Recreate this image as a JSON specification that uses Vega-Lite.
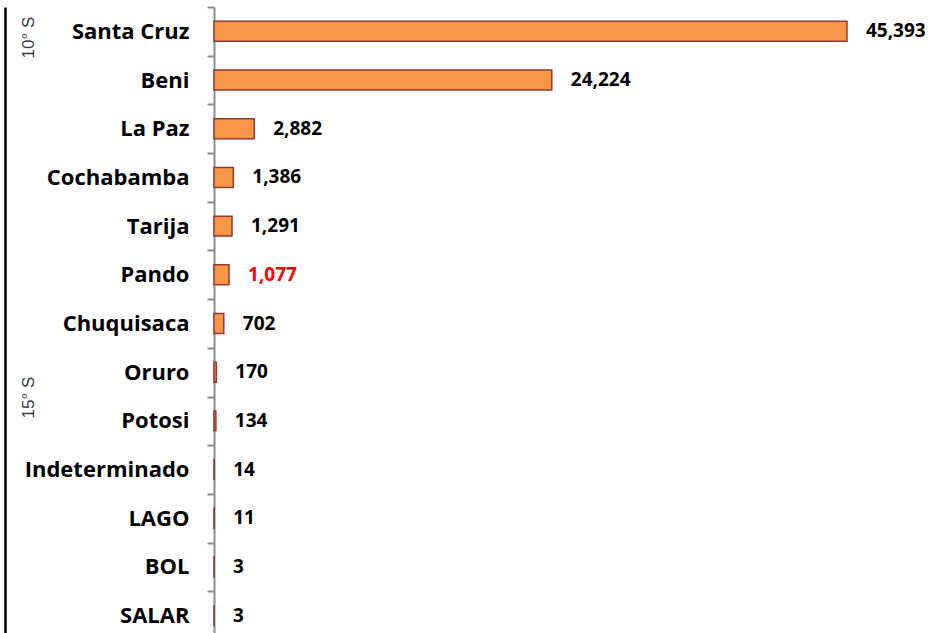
{
  "$schema": "https://vega.github.io/schema/vega-lite/v6.json",
  "autosize": {"type": "none"},
  "width": 700,
  "height": 633,
  "padding": {"left": 214, "top": 7, "right": 22, "bottom": 0},
  "background": "white",
  "config": {"view": {"stroke": null}},
  "data": {
    "values": [
      {"dept": "Santa Cruz", "count": 45393, "highlight": "no"},
      {"dept": "Beni", "count": 24224, "highlight": "no"},
      {"dept": "La Paz", "count": 2882, "highlight": "no"},
      {"dept": "Cochabamba", "count": 1386, "highlight": "no"},
      {"dept": "Tarija", "count": 1291, "highlight": "no"},
      {"dept": "Pando", "count": 1077, "highlight": "yes"},
      {"dept": "Chuquisaca", "count": 702, "highlight": "no"},
      {"dept": "Oruro", "count": 170, "highlight": "no"},
      {"dept": "Potosi", "count": 134, "highlight": "no"},
      {"dept": "Indeterminado", "count": 14, "highlight": "no"},
      {"dept": "LAGO", "count": 11, "highlight": "no"},
      {"dept": "BOL", "count": 3, "highlight": "no"},
      {"dept": "SALAR", "count": 3, "highlight": "no"}
    ]
  },
  "encoding": {
    "y": {
      "field": "dept",
      "type": "nominal",
      "sort": null,
      "scale": {"paddingInner": 0, "paddingOuter": 0}
    },
    "x": {
      "field": "count",
      "type": "quantitative",
      "scale": {"domain": [0, 50200]},
      "axis": null
    }
  },
  "layer": [
    {
      "mark": {"type": "bar", "color": "#F79646", "stroke": "#953735", "strokeWidth": 1.5, "height": {"band": 0.41}},
      "encoding": {
        "y": {
          "field": "dept",
          "type": "nominal",
          "sort": null,
          "axis": {
            "title": null,
            "orient": "left",
            "domainColor": "#8c8c8c",
            "domainWidth": 2,
            "ticks": true,
            "tickColor": "#8c8c8c",
            "tickWidth": 2,
            "tickSize": 7,
            "tickBand": "extent",
            "labelFont": "Open Sans",
            "labelFontWeight": "bold",
            "labelFontSize": 22,
            "labelColor": "#000000",
            "labelPadding": 18,
            "labelLimit": 300
          }
        }
      }
    },
    {
      "mark": {"type": "text", "align": "left", "baseline": "middle", "dx": 19, "font": "Open Sans", "fontWeight": "bold", "fontSize": 19},
      "encoding": {
        "text": {"field": "count", "type": "quantitative", "format": ","},
        "color": {
          "field": "highlight",
          "type": "nominal",
          "scale": {"domain": ["no", "yes"], "range": ["#000000", "#FF0000"]},
          "legend": null
        },
        "y": {
          "field": "dept",
          "type": "nominal",
          "sort": null,
          "axis": {
            "orient": "left",
            "offset": 209,
            "labels": false,
            "ticks": false,
            "domainColor": "#000000",
            "domainWidth": 2.5,
            "title": "10° S",
            "titleAngle": 270,
            "titleX": 23,
            "titleY": 30,
            "titleAlign": "center",
            "titleBaseline": "middle",
            "titleFont": "Liberation Sans",
            "titleFontWeight": "normal",
            "titleFontSize": 17,
            "titleColor": "#3a3a44"
          }
        }
      }
    },
    {
      "mark": {"type": "tick", "opacity": 0},
      "encoding": {
        "y": {
          "field": "dept",
          "type": "nominal",
          "sort": null,
          "axis": {
            "orient": "left",
            "offset": 209,
            "labels": false,
            "ticks": false,
            "domain": false,
            "title": "15° S",
            "titleAngle": 270,
            "titleX": 23,
            "titleY": 390,
            "titleAlign": "center",
            "titleBaseline": "middle",
            "titleFont": "Liberation Sans",
            "titleFontWeight": "normal",
            "titleFontSize": 17,
            "titleColor": "#3a3a44"
          }
        }
      }
    }
  ],
  "resolve": {"axis": {"y": "independent"}}
}
